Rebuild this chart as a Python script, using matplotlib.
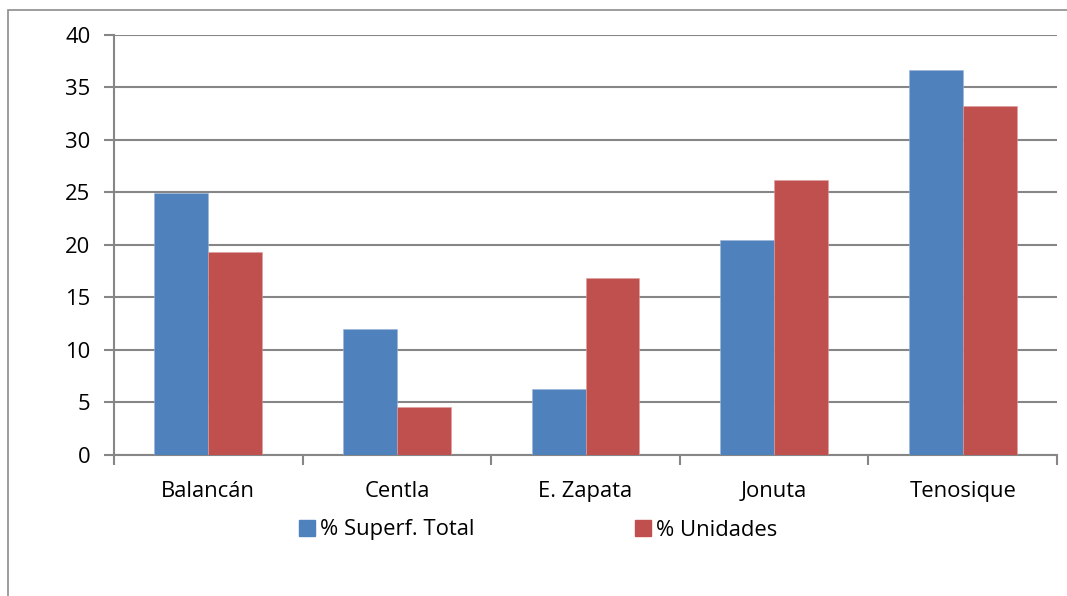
import matplotlib
matplotlib.use("Agg")
import matplotlib.pyplot as plt
from matplotlib.patches import Rectangle
import numpy as np

categories = ["Balancán", "Centla", "E. Zapata", "Jonuta", "Tenosique"]
superf_total = [24.9, 11.95, 6.25, 20.45, 36.7]
unidades = [19.3, 4.55, 16.85, 26.2, 33.2]
series_names = ["% Superf. Total", "% Unidades"]
colors = ["#4F81BD", "#C0504D"]

plt.rcParams['font.family'] = ['Open Sans', 'DejaVu Sans']

W, H = 1067, 596
FS = 15.8
fig = plt.figure(figsize=(W/100, H/100), dpi=100)
ax = fig.add_axes([114/W, 1-454.6/H, (1057-114)/W, (454.6-35)/H])

x = np.arange(len(categories))
bw = 1/3.5
b1 = ax.bar(x - bw/2, superf_total, bw, color=colors[0], edgecolor='#9DB6DA', linewidth=0.4, zorder=3)
b2 = ax.bar(x + bw/2, unidades, bw, color=colors[1], edgecolor='#DDA09E', linewidth=0.4, zorder=3)

ax.set_xlim(-0.5, len(categories)-0.5)
ax.set_ylim(0, 40)
ax.set_yticks(range(0, 41, 5))
ax.yaxis.grid(True, color='#868686', linewidth=1.5, zorder=0)
ax.set_axisbelow(True)
for s in ['top', 'right']:
    ax.spines[s].set_visible(False)
for s in ['left', 'bottom']:
    ax.spines[s].set_color('#868686')
    ax.spines[s].set_linewidth(1.5)
ax.tick_params(axis='y', length=7, width=1.5, color='#868686', labelsize=FS, pad=10)
ax.set_xticks(x)
ax.set_xticklabels(categories)
ax.tick_params(axis='x', which='major', length=0, labelsize=FS, pad=19)
ax.set_xticks(np.arange(-0.5, len(categories), 1), minor=True)
ax.tick_params(axis='x', which='minor', length=7, width=1.5, color='#868686')

# figure border
fig.patches.append(Rectangle((8/W, -0.1), 1.2, 1-10/H+0.1, transform=fig.transFigure,
                             fill=False, edgecolor='#8C8C8C', linewidth=1.2))

handles = [Rectangle((0, 0), 1, 1, color=c) for c in colors]
fig.legend(handles, series_names, loc='center', bbox_to_anchor=(538/W, 1-530/H),
           ncol=2, frameon=False, fontsize=FS, handlelength=0.72, handleheight=0.72,
           handletextpad=0.25, columnspacing=7.3)

fig.savefig("out.png", dpi=100)
